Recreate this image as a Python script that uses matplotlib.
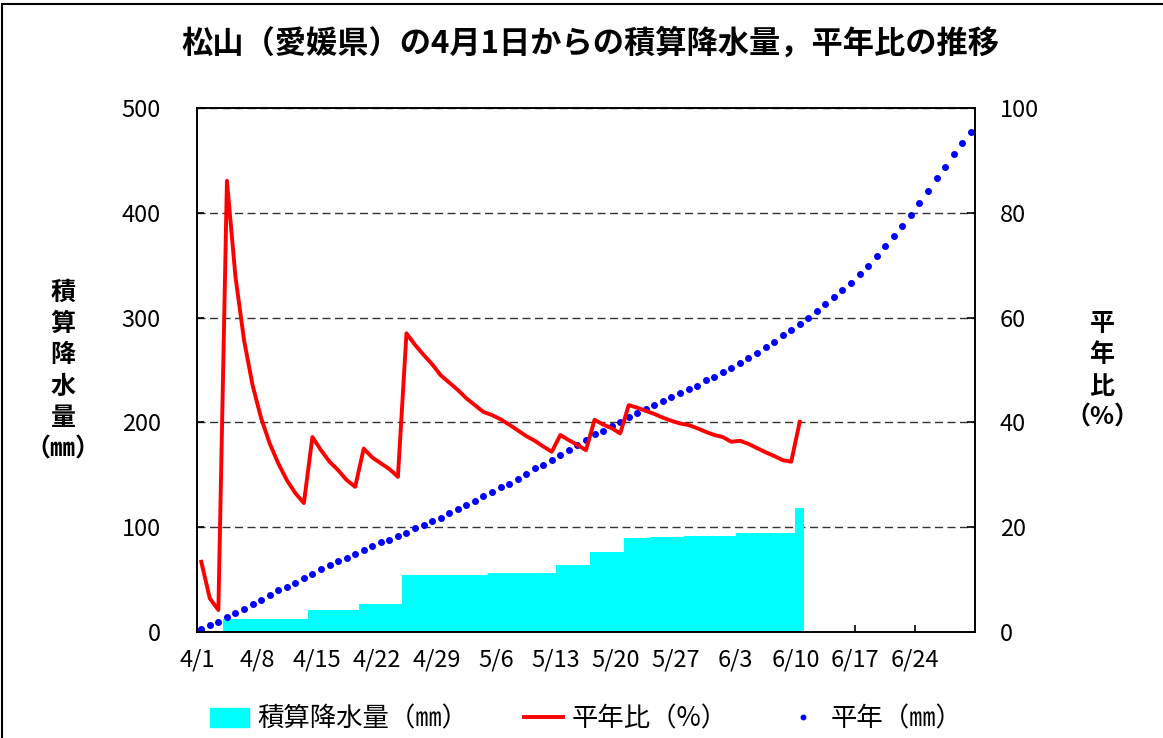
import datetime
import matplotlib
matplotlib.use("Agg")
import matplotlib.pyplot as plt
from matplotlib.lines import Line2D
from matplotlib.patches import Patch, Rectangle
import numpy as np

plt.rcParams['font.family'] = ['Noto Sans CJK JP', 'DejaVu Sans']

# カテゴリ: 4/1 ～ 6/30 の日付
start = datetime.date(2024, 4, 1)
dates = [start + datetime.timedelta(days=i) for i in range(91)]
date_labels = ["{}/{}".format(d.month, d.day) for d in dates]
tick_days = [0, 7, 14, 21, 28, 35, 42, 49, 56, 63, 70, 77, 84]

# 積算降水量 (mm) 4/1 ～ 6/10
cum_rain = [0.4, 0.4, 0.4,
            12.0, 12.0, 12.0, 12.0, 12.0, 12.0, 12.0, 12.0, 12.0, 12.0,
            20.6, 20.6, 20.6, 20.6, 20.6, 20.6,
            26.4, 26.4, 26.4, 26.4, 26.4,
            54.5, 54.5, 54.5, 54.5, 54.5, 54.5, 54.5, 54.5, 54.5, 54.5,
            56.1, 56.1, 56.1, 56.1, 56.1, 56.1, 56.1, 56.1,
            63.8, 63.8, 63.8, 63.8,
            76.5, 76.5, 76.5, 76.5,
            89.7, 89.7, 89.7,
            90.7, 90.7, 90.7, 90.7,
            91.6, 91.6, 91.6, 91.6, 91.6, 91.6,
            94.8, 94.8, 94.8, 94.8, 94.8, 94.8, 94.8,
            118.5]

# 平年比 (%)
ratio = [13.4, 6.4, 4.2, 86.1, 67.8, 55.7, 47.1, 40.8, 36.0, 32.2,
         29.0, 26.5, 24.6, 37.2, 34.7, 32.5, 30.9, 29.0, 27.7, 35.0,
         33.3, 32.2, 31.1, 29.6, 57.0, 54.8, 52.9, 51.1, 49.0, 47.6,
         46.2, 44.6, 43.3, 42.0, 41.4, 40.6, 39.6, 38.5, 37.4, 36.5,
         35.4, 34.4, 37.6, 36.6, 35.7, 34.7, 40.5, 39.6, 38.9, 37.9,
         43.3, 42.8, 42.2, 41.6, 40.9, 40.3, 39.8, 39.5, 38.9, 38.2,
         37.6, 37.2, 36.3, 36.5, 35.9, 35.1, 34.3, 33.6, 32.8, 32.5,
         40.1]

# 平年 (mm)
normal = [2.5, 6.3, 9.8, 14.6, 18.4, 21.9, 26.7, 30.5, 35.0, 39.8,
          43.2, 47.0, 51.8, 55.3, 59.8, 63.6, 67.5, 70.9, 74.7, 78.2,
          82.1, 85.6, 87.8, 91.6, 94.7, 98.9, 102.1, 105.9, 109.1, 113.2,
          117.7, 121.2, 125.0, 129.5, 133.3, 138.0, 141.5, 146.3, 151.0, 156.2,
          159.6, 164.4, 169.2, 174.0, 178.7, 183.5, 188.6, 192.1, 196.6, 200.1,
          205.2, 208.7, 212.5, 216.9, 220.7, 224.2, 227.8, 231.6, 235.0, 240.0,
          243.3, 248.1, 251.6, 256.7, 261.2, 266.2, 272.2, 277.0, 283.0, 288.0,
          293.7, 299.9, 306.0, 313.0, 319.4, 326.3, 333.3, 341.9, 349.2, 358.8,
          368.3, 377.9, 387.4, 397.9, 409.1, 421.1, 432.9, 443.7, 455.8, 466.3,
          477.4]

fig = plt.figure(figsize=(11.63, 7.38), dpi=100)
ax = fig.add_axes([197 / 1163, 1 - 632 / 738, 778 / 1163, 524 / 738])

idx = np.arange(len(dates))
n = len(cum_rain)
ax.bar(idx[:n], cum_rain, width=1.0, align='edge', color='#00FFFF', zorder=2)
ax.plot(idx + 0.5, normal, linestyle='none', marker='o', ms=4.0,
        color='#0000FF', zorder=3)
ax.set_xlim(0, len(dates))
ax.set_ylim(0, 500)
ax.set_yticks([0, 100, 200, 300, 400, 500])
ax.set_axisbelow(True)
ax.yaxis.grid(True, color='#333333', lw=1.0, linestyle=(0, (5.8, 3.2)))
ax.set_xticks(tick_days)
ax.set_xticklabels([date_labels[i] for i in tick_days])

ax2 = ax.twinx()
ax2.plot(idx[:n] + 0.5, ratio, color='#FF0000', lw=2.8, zorder=4)
ax2.set_ylim(0, 100)
ax2.set_yticks([0, 20, 40, 60, 80, 100])

for a in (ax, ax2):
    for s in a.spines.values():
        s.set_linewidth(1.2)
        s.set_color('black')
ax.tick_params(axis='x', direction='in', length=5, width=1.2, pad=12, labelsize=17)
ax.tick_params(axis='y', direction='in', length=5, width=1.2, pad=26, labelsize=17)
ax2.tick_params(axis='y', direction='in', length=6, width=1.2, pad=18, labelsize=17)

fig.text(590 / 1163, 1 - 44 / 738, "松山（愛媛県）の4月1日からの積算降水量，平年比の推移",
         ha='center', va='center', fontsize=22.5, fontweight='bold')
fig.text(63 / 1163, 1 - 371 / 738, "積\n算\n降\n水\n量\n（㎜）", ha='center',
         va='center', fontsize=18, fontweight='bold', linespacing=1.38)
fig.text(1102 / 1163, 1 - 371 / 738, "平\n年\n比\n（%）", ha='center',
         va='center', fontsize=18, fontweight='bold', linespacing=1.38)

handles = [Patch(color='#00FFFF'),
           Line2D([], [], color='#FF0000', lw=2.8),
           Line2D([], [], linestyle='none', marker='o', ms=3.2, color='#0000FF')]
labels = ["積算降水量（㎜）", "平年比（%）", "平年（㎜）"]
fig.legend(handles, labels, loc='center', bbox_to_anchor=(586 / 1163, 1 - 719 / 738),
           ncol=3, frameon=False, fontsize=19, handlelength=1.5,
           columnspacing=2.1, handletextpad=0.3, handleheight=0.7)

# 外枠
fig.patches.append(Rectangle((2 / 1163, -0.05), 1.1, 1.05 - 4 / 738,
                             transform=fig.transFigure, fill=False,
                             ec='black', lw=1.5))

fig.savefig("out.png", dpi=100)
